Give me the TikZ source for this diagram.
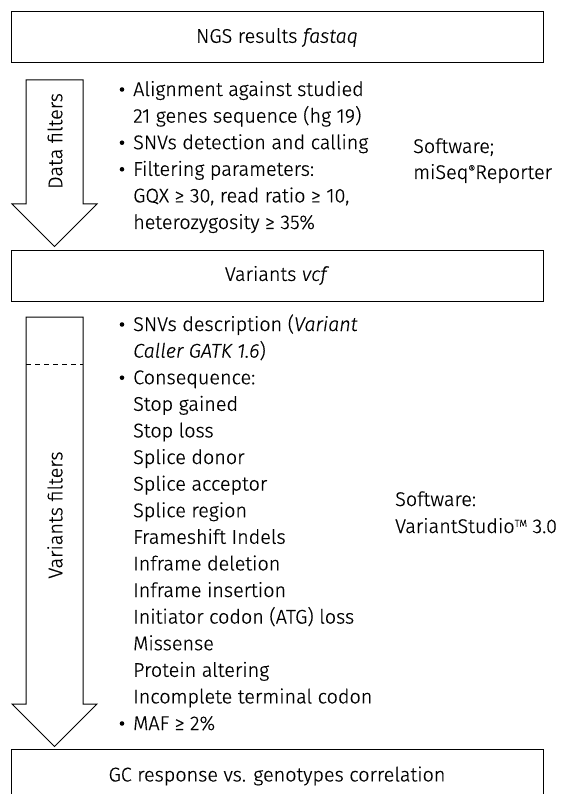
\documentclass[tikz,border=0pt]{standalone}
\usepackage{fontspec}
\setmainfont{Fira Sans}[UprightFont={* Light}, ItalicFont={* Light Italic}, UprightFeatures={FakeBold=0.5}, ItalicFeatures={FakeBold=0.5}]
\newcommand\fsz{\fontsize{19.8}{23}\selectfont}
\begin{document}
\begin{tikzpicture}[x=1pt,y=-1pt,
  box/.style={draw, line width=1pt, minimum width=532pt, minimum height=51pt, inner sep=0pt, font=\fsz},
  txt/.style={anchor=base west, inner sep=0pt, font=\fsz},
  bul/.style={circle, fill, inner sep=0pt, minimum size=4.6pt},
  bigarrow/.style={draw, line width=1pt, line join=miter},
  vlabel/.style={rotate=90, inner sep=0pt, font=\fsz}]
\useasboundingbox (0,0) rectangle (570,794);
% boxes
\node[box] (ngs) at (277,37.5) {NGS results \textit{fastaq}};
\node[box] (vcf) at (277,275.5) {Variants \textit{vcf}};
\node[box, minimum height=54pt] (gc) at (277,776) {GC response vs. genotypes correlation};
% arrow 1
\draw[bigarrow] (26,80) -- (83,80) -- (83,204) -- (97,204) -- (54.5,246.5) -- (12,204) -- (26,204) -- cycle;
\node[vlabel] (df) at (55,141) {Data filters};
% arrow 2
\draw[bigarrow] (26,317) -- (83,317) -- (83,704) -- (97,704) -- (54.5,746.5) -- (12,704) -- (26,704) -- cycle;
\draw[line width=0.8pt, dash pattern=on 5pt off 4pt] (26,364) -- (83,364);
\node[vlabel] (vf) at (55,515) {Variants filters};
% list 1
\foreach \t [count=\i from 0] in {{Alignment against studied},{21 genes sequence (hg 19)},{SNVs detection and calling},{Filtering parameters:},{GQX ≥ 30, read ratio ≥ 10,},{heterozygosity ≥ 35\%}}
  \node[txt] (a\i) at (133,96+26.6*\i) {\t};
\foreach \i in {0,2,3}
  \node[bul] (ab\i) at (122,89.5+26.6*\i) {};
% list 2
\foreach \t [count=\i from 0] in {{SNVs description (\textit{Variant}},{\textit{Caller GATK 1.6})},{Consequence:},{Stop gained},{Stop loss},{Splice donor},{Splice acceptor},{Splice region},{Frameshift Indels},{Inframe deletion},{Inframe insertion},{Initiator codon (ATG) loss},{Missense},{Protein altering},{Incomplete terminal codon},{MAF ≥ 2\%}}
  \node[txt] (b\i) at (133,331+26.6*\i) {\t};
\foreach \i in {0,2,15}
  \node[bul] (bb\i) at (122,324.5+26.6*\i) {};
% software notes
\node[txt] (sw1) at (413,153) {Software;};
\node[txt] (sw1b) at (413,179) {miSeq\raisebox{0.55ex}{\fontsize{11}{11}\selectfont ®}Reporter};
\node[txt] (sw2) at (395,506) {Software:};
\node[txt] (sw2b) at (395,533) {VariantStudio\raisebox{0.6ex}{\fontsize{10}{10}\selectfont TM} 3.0};
\end{tikzpicture}
\end{document}
